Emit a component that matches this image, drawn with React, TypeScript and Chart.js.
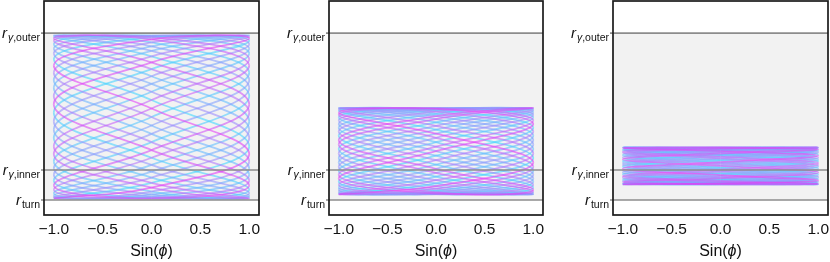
import React, { useEffect, useRef } from "react";
import { Chart, registerables } from "chart.js";

Chart.register(...registerables);

// ---------- data ----------
const X_TICKS = [-1, -0.5, 0, 0.5, 1];
// sin(phi) at the turning points and mid-crossings of each half-orbit
const SIN_PHI_CYCLE = [-1, 0, 1, 0];

const R_TURN = 0.7;
const R_INNER = 2.1;
const R_OUTER = 8.5;

// radial extent of the orbits in each panel [r_min, r_max]
const PANEL1_BAND = [0.77, 8.39];
const PANEL2_BAND = [0.96, 5.0];
const PANEL3_BAND = [1.43, 3.16];

// position within the band (percent), alternately at sin(phi) = -1, 0, 1, 0, ...
const PANEL1_PCT = [
  0.1, 9.6, 32.1, 60.4, 85.4, 98.9, 96.7, 79.4, 52.6, 25.0,
  5.5, 0.3, 11.1, 34.6, 62.9, 87.2, 99.4, 95.7, 77.2, 50.0,
  22.8, 4.3, 0.6, 12.8, 37.1, 65.5, 88.9, 99.7, 94.6, 75.0,
  47.4, 20.6, 3.3, 1.1, 14.6, 39.6, 67.9, 90.5, 99.9, 93.3,
  72.7, 44.8, 18.5, 2.5, 1.7, 16.5, 42.2, 70.3, 91.9, 100,
  91.9, 70.3, 42.2, 16.5, 1.7, 2.5, 18.5, 44.8, 72.7, 93.3,
  99.9, 90.5, 67.9, 39.6, 14.6, 1.1, 3.3, 20.6, 47.4, 75.0,
  94.6, 99.7, 88.9, 65.5, 37.1, 12.8, 0.6, 4.3, 22.8, 50.0,
  77.2, 95.7, 99.4, 87.2, 62.9, 34.6, 11.1, 0.3, 5.5, 25.0,
  52.6, 79.4, 96.7, 98.9, 85.4, 60.4, 32.1, 9.6, 0.1, 6.7,
  27.3, 55.2, 81.5, 97.6, 98.3, 83.5, 57.8, 29.7, 8.1, 0,
  8.1, 29.7, 57.8, 83.5, 98.3, 97.6, 81.5, 55.2, 27.3, 6.7,
  0.1,
];

const PANEL2_PCT = [
  0.1, 12.8, 42.2, 75.0, 96.7, 97.6, 77.2, 44.8, 14.6, 0.3,
  8.1, 34.6, 67.9, 93.3, 99.4, 83.5, 52.6, 20.6, 1.7, 4.3,
  27.3, 60.4, 88.9, 100, 88.9, 60.4, 27.3, 4.3, 1.7, 20.6,
  52.6, 83.5, 99.4, 93.3, 67.9, 34.6, 8.1, 0.3, 14.6, 44.8,
  77.2, 97.6, 96.7, 75.0, 42.2, 12.8, 0.1, 9.6, 37.1, 70.3,
  94.6, 98.9, 81.5, 50.0, 18.5, 1.1, 5.5, 29.7, 62.9, 90.5,
  99.9, 87.2, 57.8, 25.0, 3.3, 2.5, 22.8, 55.2, 85.4, 99.7,
  91.9, 65.5, 32.1, 6.7, 0.6, 16.5, 47.4, 79.4, 98.3, 95.7,
  72.7, 39.6, 11.1, 0, 11.1, 39.6, 72.7, 95.7, 98.3, 79.4,
  47.4, 16.5, 0.6, 6.7, 32.1, 65.5, 91.9, 99.7, 85.4, 55.2,
  22.8, 2.5, 3.3, 25.0, 57.8, 87.2, 99.9, 90.5, 62.9, 29.7,
  5.5, 1.1, 18.5, 50.0, 81.5, 98.9, 94.6, 70.3, 37.1, 9.6,
  0.1,
];

const PANEL3_PCT = [
  0.1, 4.3, 14.6, 29.7, 47.4, 65.5, 81.5, 93.3, 99.4, 98.9,
  91.9, 79.4, 62.9, 44.8, 27.3, 12.8, 3.3, 0, 3.3, 12.8,
  27.3, 44.8, 62.9, 79.4, 91.9, 98.9, 99.4, 93.3, 81.5, 65.5,
  47.4, 29.7, 14.6, 4.3, 0.1, 2.5, 11.1, 25.0, 42.2, 60.4,
  77.2, 90.5, 98.3, 99.7, 94.6, 83.5, 67.9, 50.0, 32.1, 16.5,
  5.5, 0.3, 1.7, 9.6, 22.8, 39.6, 57.8, 75.0, 88.9, 97.6,
  99.9, 95.7, 85.4, 70.3, 52.6, 34.6, 18.5, 6.7, 0.6, 1.1,
  8.1, 20.6, 37.1, 55.2, 72.7, 87.2, 96.7, 100, 96.7, 87.2,
  72.7, 55.2, 37.1, 20.6, 8.1, 1.1, 0.6, 6.7, 18.5, 34.6,
  52.6, 70.3, 85.4, 95.7, 99.9, 97.6, 88.9, 75.0, 57.8, 39.6,
  22.8, 9.6, 1.7, 0.3, 5.5, 16.5, 32.1, 50.0, 67.9, 83.5,
  94.6, 99.7, 98.3, 90.5, 77.2, 60.4, 42.2, 25.0, 11.1, 2.5,
  0.1,
];

// ---------- styling ----------
const FONT = '"Liberation Sans", Arial, "DejaVu Sans", sans-serif';
const COLOR_STOPS = [
  [60, 215, 255],
  [105, 180, 255],
  [165, 130, 252],
  [230, 55, 245],
];
const LINE_ALPHA = 0.58;

function colorAt(t: number) {
  const tt = Math.max(0, Math.min(1, t)) * (COLOR_STOPS.length - 1);
  const i = Math.min(Math.floor(tt), COLOR_STOPS.length - 2);
  const f = tt - i;
  const a = COLOR_STOPS[i];
  const b = COLOR_STOPS[i + 1];
  const c = a.map((v, k) => Math.round(v + (b[k] - v) * f));
  return `rgba(${c[0]},${c[1]},${c[2]},${LINE_ALPHA})`;
}

type LabelPart = { text: string; italic: boolean };
const Y_LABELS: { value: number; sub: LabelPart[] }[] = [
  { value: R_OUTER, sub: [{ text: "γ", italic: true }, { text: ",outer", italic: false }] },
  { value: R_INNER, sub: [{ text: "γ", italic: true }, { text: ",inner", italic: false }] },
  { value: R_TURN, sub: [{ text: "turn", italic: false }] },
];

const decorPlugin = {
  id: "decor",
  beforeDatasetsDraw(chart: any) {
    const { ctx, chartArea: a, scales } = chart;
    const y = scales.y;
    const yt = y.getPixelForValue(R_OUTER);
    const yb = y.getPixelForValue(R_TURN);
    ctx.save();
    ctx.fillStyle = "#f2f2f2";
    ctx.fillRect(a.left, yt, a.right - a.left, yb - yt);
    ctx.restore();
  },
  afterDatasetsDraw(chart: any) {
    const { ctx, chartArea: a, scales } = chart;
    const y = scales.y;
    ctx.save();
    // horizontal reference lines
    ctx.strokeStyle = "#8c8c8c";
    ctx.lineWidth = 1.6;
    for (const v of [R_TURN, R_INNER, R_OUTER]) {
      const py = y.getPixelForValue(v);
      ctx.beginPath();
      ctx.moveTo(a.left - 3, py);
      ctx.lineTo(a.right, py);
      ctx.stroke();
    }
    // frame
    ctx.strokeStyle = "#1a1a1a";
    ctx.lineWidth = 1.7;
    ctx.strokeRect(a.left, a.top, a.right - a.left, a.bottom - a.top);

    // y labels
    ctx.fillStyle = "#111";
    ctx.textBaseline = "alphabetic";
    ctx.textAlign = "left";
    const mainFont = `italic 15px ${FONT}`;
    const subSize = 10.5;
    for (const lab of Y_LABELS) {
      const py = y.getPixelForValue(lab.value);
      ctx.font = mainFont;
      const rW = ctx.measureText("r").width;
      let subW = 0;
      for (const p of lab.sub) {
        ctx.font = `${p.italic ? "italic " : ""}${subSize}px ${FONT}`;
        subW += ctx.measureText(p.text).width;
      }
      let x = a.left - 4 - (rW + 0.8 + subW);
      ctx.font = mainFont;
      ctx.fillText("r", x, py + 4.5);
      x += rW + 0.8;
      for (const p of lab.sub) {
        ctx.font = `${p.italic ? "italic " : ""}${subSize}px ${FONT}`;
        ctx.fillText(p.text, x, py + 7.5);
        x += ctx.measureText(p.text).width;
      }
    }

    // x title: Sin(ϕ)
    const parts: LabelPart[] = [
      { text: "Sin(", italic: false },
      { text: "ϕ", italic: true },
      { text: ")", italic: false },
    ];
    const tSize = 16;
    let tw = 0;
    for (const p of parts) {
      ctx.font = `${p.italic ? "italic " : ""}${tSize}px ${FONT}`;
      tw += ctx.measureText(p.text).width;
    }
    let tx = (a.left + a.right) / 2 - tw / 2;
    for (const p of parts) {
      ctx.font = `${p.italic ? "italic " : ""}${tSize}px ${FONT}`;
      ctx.fillText(p.text, tx, 256);
      tx += ctx.measureText(p.text).width;
    }
    ctx.restore();
  },
};

type PanelProps = {
  pct: number[];
  band: number[];
  left: number;
  width: number;
  padLeft: number;
  padRight: number;
};

function Panel({ pct, band, left, width, padLeft, padRight }: PanelProps) {
  const ref = useRef<HTMLCanvasElement | null>(null);
  useEffect(() => {
    if (!ref.current) return;
    const points = pct.map((p, i) => ({
      x: SIN_PHI_CYCLE[i % SIN_PHI_CYCLE.length],
      y: band[0] + ((band[1] - band[0]) * p) / 100,
    }));
    const n = points.length;
    const chart = new Chart(ref.current, {
      type: "line",
      data: {
        datasets: [
          {
            data: points,
            borderWidth: 1.8,
            pointRadius: 0,
            tension: 0.4,
            fill: false,
            borderColor: colorAt(0.5),
            segment: {
              borderColor: (c: any) => colorAt(c.p0DataIndex / (n - 2)),
            },
          } as any,
        ],
      },
      options: {
        responsive: false,
        animation: false,
        devicePixelRatio: 1,
        layout: { padding: { left: padLeft, right: padRight, top: 1, bottom: 0 } },
        plugins: { legend: { display: false }, tooltip: { enabled: false } },
        scales: {
          x: {
            type: "linear",
            min: -1.1,
            max: 1.1,
            grid: { display: false, drawTicks: false },
            border: { display: false },
            afterBuildTicks: (s: any) => {
              s.ticks = X_TICKS.map((v) => ({ value: v }));
            },
            afterFit: (s: any) => {
              s.height = 47;
              s.paddingLeft = 0;
              s.paddingRight = 0;
            },
            ticks: {
              padding: 5,
              color: "#111",
              maxRotation: 0,
              autoSkip: false,
              font: { family: FONT, size: 15.5 },
              callback: (v: any) => Number(v).toFixed(1).replace("-", "\u2212"),
            },
          },
          y: {
            type: "linear",
            display: false,
            min: 0,
            max: 10,
          },
        },
      } as any,
      plugins: [decorPlugin as any],
    });
    return () => chart.destroy();
  }, []);
  return (
    <canvas
      ref={ref}
      width={width}
      height={262}
      style={{ position: "absolute", left, top: 0, width, height: 262 }}
    />
  );
}

export default function App() {
  return (
    <div
      style={{
        position: "fixed",
        left: 0,
        top: 0,
        width: 830,
        height: 262,
        background: "#fff",
        overflow: "hidden",
      }}
    >
      <Panel pct={PANEL1_PCT} band={PANEL1_BAND} left={0} width={265} padLeft={44} padRight={6} />
      <Panel pct={PANEL2_PCT} band={PANEL2_BAND} left={272} width={277} padLeft={57} padRight={6} />
      <Panel pct={PANEL3_PCT} band={PANEL3_BAND} left={556} width={274} padLeft={57} padRight={2} />
    </div>
  );
}
